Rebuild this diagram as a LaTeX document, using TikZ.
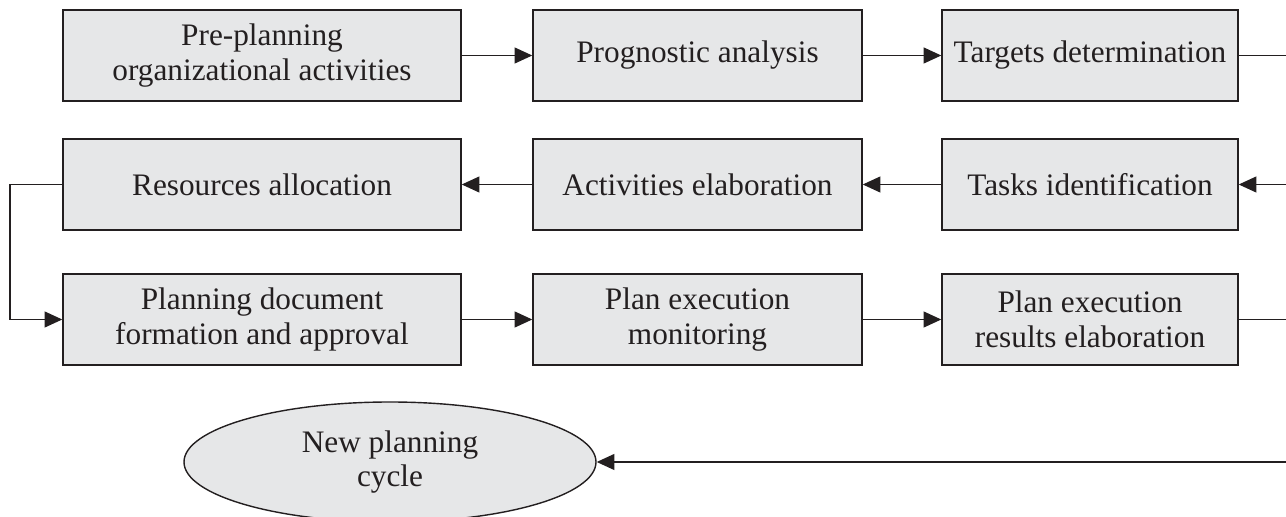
\documentclass[tikz,border=0pt]{standalone}
\usepackage{fontspec}
\setmainfont{Liberation Serif}
\usetikzlibrary{arrows.meta,shapes.geometric}

\definecolor{boxfill}{RGB}{230,231,232}
\definecolor{inkgray}{RGB}{35,31,32}

\begin{document}
\begin{tikzpicture}[
    stagebox/.style={draw=inkgray, line width=0.8pt, fill=boxfill, text=inkgray,
        minimum height=1.82cm, inner sep=0pt, align=center,
        font=\fontsize{17.8pt}{19.8pt}\selectfont},
    cyclenode/.style={ellipse, draw=inkgray, line width=0.8pt, fill=boxfill, text=inkgray,
        minimum width=8.24cm, minimum height=2.4cm, inner sep=0pt, align=center,
        font=\fontsize{17.8pt}{19.8pt}\selectfont},
    flow/.style={draw=inkgray, line width=0.8pt, -{Triangle[length=10pt,width=9pt]}},
    flowend/.style={draw=inkgray, line width=0.8pt}
  ]
    \useasboundingbox (0,0) rectangle (25.72,10.34);
    \clip (0,0) rectangle (25.72,10.34);

    % first row
    \node[stagebox, minimum width=7.96cm] (prePlan) at (5.24,9.23) {Pre-planning\\organizational activities};
    \node[stagebox, minimum width=6.58cm] (prognosis) at (13.95,9.23) {Prognostic analysis};
    \node[stagebox, minimum width=5.92cm] (targets) at (21.8,9.23) {Targets determination};
    % second row
    \node[stagebox, minimum width=7.96cm] (resources) at (5.24,6.65) {Resources allocation};
    \node[stagebox, minimum width=6.58cm] (activities) at (13.95,6.65) {Activities elaboration};
    \node[stagebox, minimum width=5.92cm] (tasks) at (21.8,6.65) {Tasks identification};
    % third row
    \node[stagebox, minimum width=7.96cm] (document) at (5.24,3.95) {Planning document\\formation and approval};
    \node[stagebox, minimum width=6.58cm] (monitoring) at (13.95,3.95) {Plan execution\\monitoring};
    \node[stagebox, minimum width=5.92cm] (results) at (21.8,3.95) {Plan execution\\results elaboration};
    % new cycle
    \node[cyclenode] (newCycle) at (7.8,1.1) {New planning\\cycle};

    \coordinate (edgeA) at (25.72,9.23);
    \coordinate (edgeB) at (25.72,6.65);
    \coordinate (edgeC) at (25.72,3.95);
    \coordinate (edgeD) at (25.72,1.1);
    \coordinate (loopL) at (0.2,6.65);

    \draw[flow] (prePlan) -- (prognosis);
    \draw[flow] (prognosis) -- (targets);
    \draw[flowend] (targets.east) -- (edgeA);
    \draw[flow] (edgeB) -- (tasks);
    \draw[flow] (tasks) -- (activities);
    \draw[flow] (activities) -- (resources);
    \draw[flow] (resources.west) -- (loopL) |- (document.west);
    \draw[flow] (document) -- (monitoring);
    \draw[flow] (monitoring) -- (results);
    \draw[flowend] (results.east) -- (edgeC);
    \draw[flow] (edgeD) -- (newCycle);
\end{tikzpicture}
\end{document}
